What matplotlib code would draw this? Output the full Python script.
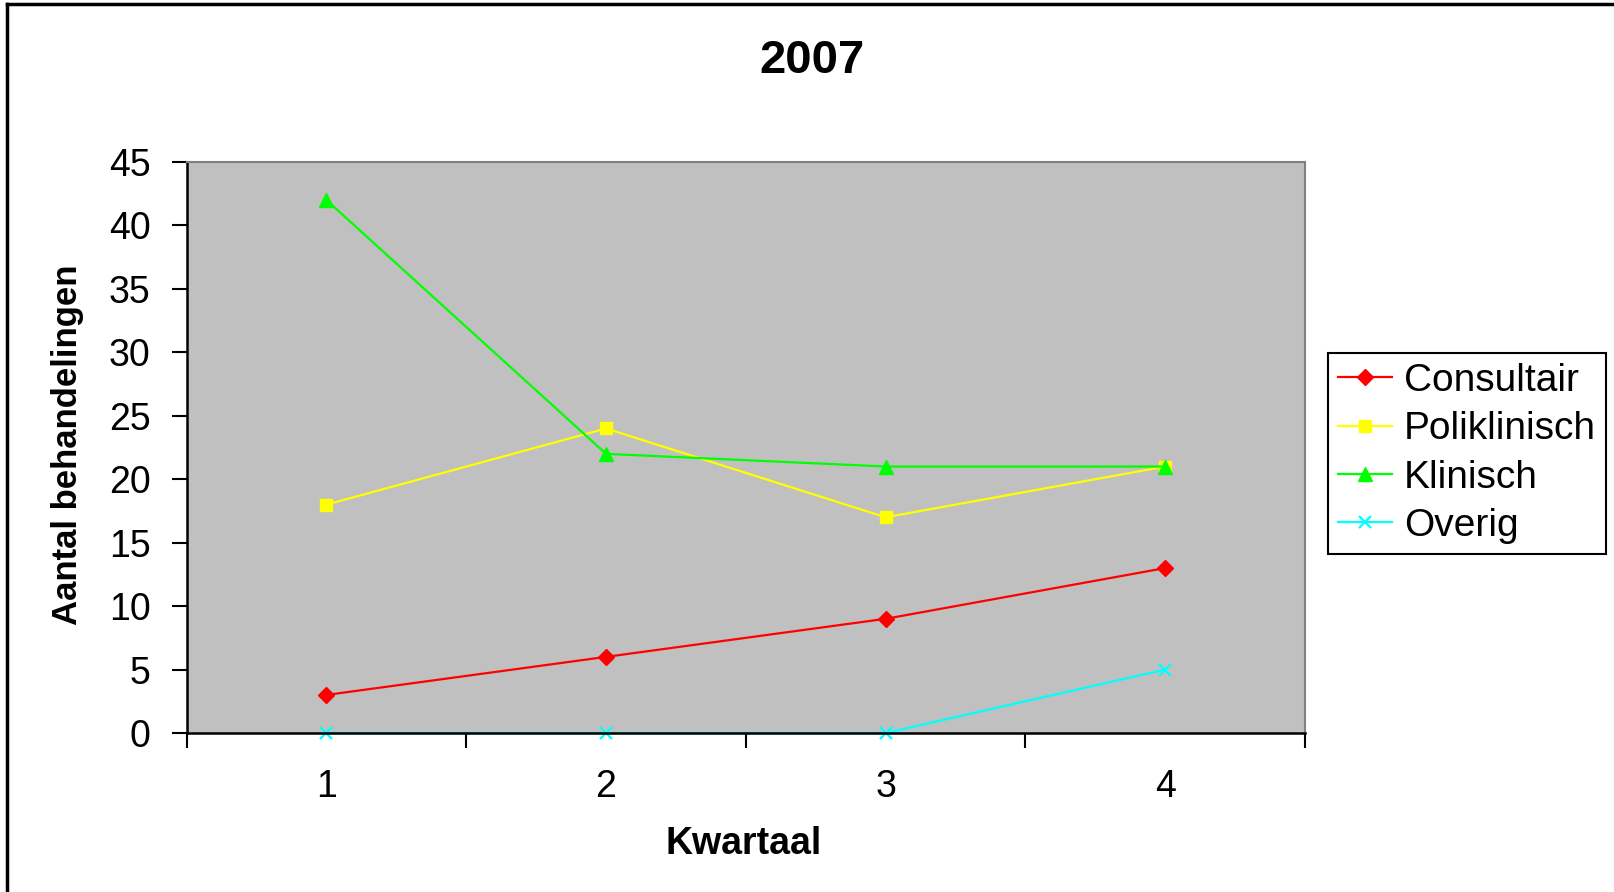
import matplotlib
matplotlib.use("Agg")
import matplotlib.pyplot as plt
from matplotlib.lines import Line2D

plt.rcParams['font.family'] = ['Liberation Sans', 'DejaVu Sans']

title = "2007"
quarters = [1, 2, 3, 4]
quarter_labels = ["1", "2", "3", "4"]
consultair = [3, 6, 9, 13]
poliklinisch = [18, 24, 17, 21]
klinisch = [42, 22, 21, 21]
overig = [0, 0, 0, 5]
y_ticks = [0, 5, 10, 15, 20, 25, 30, 35, 40, 45]

W, H = 1615, 892
fig = plt.figure(figsize=(W / 100, H / 100), dpi=100)
fig.patch.set_facecolor('white')

# outer chart frame (left and top visible)
fig.add_artist(Line2D([7 / W, 7 / W], [0, 1 - 3.5 / H], color='black', lw=2.5, transform=fig.transFigure))
fig.add_artist(Line2D([7 / W, 1], [1 - 3.5 / H, 1 - 3.5 / H], color='black', lw=2.5, transform=fig.transFigure))

left, right = 186.7 / W, 1305 / W
bottom, top = 1 - 733 / H, 1 - 162 / H
ax = fig.add_axes([left, bottom, right - left, top - bottom])
ax.set_facecolor('#C0C0C0')

ax.plot(quarters, consultair, color='#FF0000', lw=1.6, marker='D', ms=8, label='Consultair', clip_on=False)
ax.plot(quarters, poliklinisch, color='#FFFF00', lw=1.6, marker='s', ms=9, label='Poliklinisch', clip_on=False)
ax.plot(quarters, klinisch, color='#00FF00', lw=1.6, marker='^', ms=10, label='Klinisch', clip_on=False)
ax.plot(quarters, overig, color='#00FFFF', lw=1.6, marker='x', ms=8, mew=1.6, label='Overig', clip_on=False)

ax.set_xlim(0.5, 4.5)
ax.set_ylim(0, 45)
ax.set_yticks(y_ticks)
ax.set_xticks([0.5, 1.5, 2.5, 3.5, 4.5])
ax.set_xticklabels([])
ax.set_xticks(quarters, minor=True)
ax.set_xticklabels(quarter_labels, minor=True)
ax.tick_params(axis='x', which='minor', length=0, pad=26, labelsize=27)
ax.tick_params(axis='x', which='major', direction='out', length=11, width=1.5)
ax.tick_params(axis='y', direction='out', length=11, width=1.5, labelsize=27, pad=15)

for s in ['left', 'bottom']:
    ax.spines[s].set_color('black')
    ax.spines[s].set_linewidth(1.8)
for s in ['top', 'right']:
    ax.spines[s].set_color('#808080')
    ax.spines[s].set_linewidth(1.5)

fig.text(812 / W, 1 - 61 / H, title, ha='center', va='center', fontsize=34, fontweight='bold')
fig.text(68 / W, 1 - 445 / H, 'Aantal behandelingen', ha='center', va='center', rotation=90,
         fontsize=25, fontweight='bold')
fig.text(744 / W, 1 - 844 / H, 'Kwartaal', ha='center', va='center', fontsize=27, fontweight='bold')

leg = ax.legend(loc='upper left', bbox_to_anchor=(1328 / W, 1 - 353 / H),
                bbox_transform=fig.transFigure, fontsize=28, frameon=True, fancybox=False,
                borderpad=0.25, labelspacing=0.32, handlelength=1.4, handletextpad=0.3,
                borderaxespad=0)
leg.get_frame().set_edgecolor('black')
leg.get_frame().set_linewidth(1.5)
leg.get_frame().set_facecolor('white')
leg.get_frame().set_alpha(1)

fig.savefig('out.png', dpi=100, facecolor='white')
